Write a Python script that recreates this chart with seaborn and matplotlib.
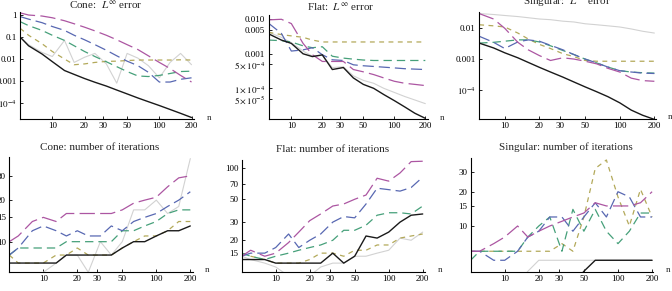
import matplotlib
matplotlib.use("Agg")
import matplotlib.pyplot as plt
import seaborn as sns
import pandas as pd
from matplotlib.ticker import NullLocator

# problem sizes n (shared x values)
n = [5, 6, 8, 10, 13, 16, 20, 25, 32, 40, 50, 63, 79, 100, 126, 158, 200]
n_err = n[1:]  # flat / singular error curves start at n = 6

series = ["gray", "olive", "green", "blue", "purple", "black"]

# Cone: L-infinity error
cone_err_gray = [0.1, 0.045, 0.02, 0.013, 0.07, 0.007, 0.012, 0.018, 0.006, 0.0008,
                 0.018, 0.011, 0.005, 0.0014, 0.007, 0.018, 0.0055]
cone_err_olive = [0.25, 0.12, 0.05, 0.022, 0.01, 0.0055, 0.006, 0.007, 0.0078, 0.008,
                  0.0085, 0.009, 0.009, 0.009, 0.009, 0.0092, 0.009]
cone_err_green = [0.5, 0.33, 0.2, 0.12, 0.07, 0.04, 0.022, 0.013, 0.0075, 0.0045,
                  0.0027, 0.0017, 0.0016, 0.0018, 0.0022, 0.0027, 0.0028]
cone_err_blue = [0.85, 0.65, 0.45, 0.3, 0.2, 0.12, 0.075, 0.045, 0.025, 0.014,
                 0.008, 0.005, 0.0025, 0.0009, 0.0009, 0.0012, 0.0014]
cone_err_purple = [1.25, 1.0, 0.9, 0.75, 0.55, 0.4, 0.28, 0.19, 0.12, 0.075,
                   0.045, 0.027, 0.014, 0.007, 0.0037, 0.0018, 0.0009]
cone_err_black = [0.1, 0.04, 0.017, 0.0076, 0.003, 0.002, 0.0013, 0.00088, 0.00059, 0.00039,
                  0.00026, 0.00017, 0.000115, 7.7e-5, 5.1e-5, 3.4e-5, 2.2e-5]

# Flat: L-infinity error (n >= 6)
flat_err_gray = [0.0042, 0.003, 0.0021, 0.0012, 0.00085, 0.0009, 0.0004, 0.00042,
                 0.00023, 0.00017, 0.00014, 0.0001, 7.6e-5, 5.8e-5, 4.6e-5, 3.6e-5]
flat_err_olive = [0.0042, 0.0036, 0.0033, 0.003, 0.0025, 0.0022, 0.0022, 0.0022,
                  0.0022, 0.0022, 0.0022, 0.0022, 0.0022, 0.0022, 0.0022, 0.0022]
flat_err_green = [0.0025, 0.0024, 0.0022, 0.0017, 0.0015, 0.0016, 0.00085, 0.00075,
                  0.0007, 0.00066, 0.00064, 0.00064, 0.00064, 0.00064, 0.00064, 0.00064]
flat_err_blue = [0.0077, 0.0039, 0.0012, 0.0013, 0.0015, 0.00094, 0.00067, 0.00064,
                 0.00048, 0.00045, 0.00043, 0.00041, 0.00039, 0.00037, 0.00036, 0.00035]
flat_err_purple = [0.0096, 0.01, 0.0075, 0.002, 0.00094, 0.0006, 0.0006, 0.0006,
                   0.00035, 0.0003, 0.00025, 0.0002, 0.00016, 0.00014, 0.00013, 0.00012]
flat_err_black = [0.0038, 0.0025, 0.002, 0.001, 0.00083, 0.00093, 0.00035, 0.0004,
                  0.0002, 0.00013, 0.0001, 6.6e-5, 4.4e-5, 2.9e-5, 1.9e-5, 1.35e-5]

# Singular: L-infinity error (n >= 6)
sing_err_gray = [0.03, 0.028, 0.026, 0.024, 0.022, 0.02, 0.019, 0.017,
                 0.016, 0.014, 0.013, 0.012, 0.011, 0.0095, 0.008, 0.007]
sing_err_olive = [0.013, 0.012, 0.011, 0.007, 0.0045, 0.003, 0.0022, 0.0015,
                  0.0012, 0.0009, 0.00085, 0.00085, 0.00085, 0.00085, 0.00085, 0.00085]
sing_err_green = [0.0033, 0.0035, 0.0038, 0.0042, 0.0042, 0.0036, 0.0027, 0.0019,
                  0.0014, 0.001, 0.00075, 0.00055, 0.00042, 0.00038, 0.00036, 0.00035]
sing_err_blue = [0.0055, 0.0035, 0.0022, 0.0036, 0.0042, 0.0038, 0.0028, 0.002,
                 0.0014, 0.001, 0.00075, 0.00055, 0.00042, 0.00038, 0.00035, 0.00034]
sing_err_purple = [0.03, 0.02, 0.01, 0.0035, 0.002, 0.0013, 0.0009, 0.0011,
                   0.001, 0.00085, 0.0007, 0.0005, 0.00038, 0.00024, 0.0002, 0.00019]
sing_err_black = [0.0033, 0.0023, 0.0016, 0.0011, 0.00078, 0.00054, 0.00038, 0.00026,
                  0.00018, 0.000125, 8.7e-5, 6e-5, 3.8e-5, 2.2e-5, 1.5e-5, 1.1e-5]

# Cone: number of iterations
cone_it_gray = [5, 5, 5, 6, 7, 8, 8, 6, 10, 8, 10, 17, 17, 20, 16, 18, 40]
cone_it_olive = [8, 7, 7, 7, 8, 8, 9, 8, 8, 8, 9, 10, 11, 11, 12, 14, 14]
cone_it_green = [8, 9, 9, 9, 9, 10, 10, 10, 10, 10, 12, 12, 13, 14, 16, 17, 17]
cone_it_blue = [8, 9, 12, 13, 12, 11, 12, 11, 11, 13, 12, 14, 15, 16, 18, 20, 23]
cone_it_purple = [10, 11, 14, 15, 14, 16, 16, 16, 16, 16, 17, 19, 20, 21, 25, 29, 30]
cone_it_black = [7, 7, 7, 7, 7, 8, 8, 8, 8, 8, 9, 10, 10, 11, 12, 12, 13]

# Flat: number of iterations
flat_it_gray = [14, 13, 12, 11, 9, 9, 9, 11, 12, 12, 14, 14, 15, 16, 21, 20, 24]
flat_it_olive = [15, 14, 13, 12, 12, 12, 13, 15, 15, 14, 16, 16, 18, 18, 21, 22, 23]
flat_it_green = [15, 14, 13, 14, 15, 16, 17, 18, 20, 25, 25, 28, 35, 37, 37, 36, 43]
flat_it_blue = [14, 15, 15, 17, 23, 17, 20, 23, 30, 34, 33, 45, 64, 62, 60, 65, 82]
flat_it_purple = [14, 16, 14, 15, 19, 24, 31, 36, 43, 45, 50, 55, 80, 75, 90, 116, 117]
flat_it_black = [13, 13, 13, 12, 12, 12, 12, 12, 15, 12, 14, 22, 21, 24, 30, 35, 36]

# Singular: number of iterations
sing_it_gray = [3, 3, 3, 3, 3, 4, 5, 5, 5, 5, 5, 5, 5, 5, 5, 5, 5]
sing_it_olive = [6, 6, 6, 6, 6, 6, 6, 6, 7, 6, 12, 32, 38, 18, 10, 21, 12]
sing_it_green = [5, 6, 6, 6, 6, 8, 10, 12, 6, 14, 9, 14, 9, 7, 9, 13, 13]
sing_it_blue = [6, 6, 5, 5, 6, 8, 9, 12, 12, 9, 12, 16, 12, 20, 18, 12, 12]
sing_it_purple = [6, 6, 7, 8, 10, 8, 9, 10, 11, 12, 13, 16, 15, 15, 15, 16, 20]
sing_it_black = [3, 3, 3, 3, 3, 3, 3, 3, 3, 3, 4, 5, 5, 5, 5, 5, 5]

# styling
colors = {"gray": "#d2d2d2", "olive": "#b3a95a", "green": "#46a07a",
          "blue": "#5868b2", "purple": "#ac56a2", "black": "#1a1a1a"}
dashes = {"gray": "", "olive": (3.5, 3.2), "green": (6, 3.6), "blue": (8, 3.6),
          "purple": (11, 3.8), "black": ""}
widths = {"gray": 0.8, "olive": 0.9, "green": 0.9, "blue": 0.9, "purple": 0.9, "black": 1.0}

sns.set_theme(style="white")
plt.rcParams["font.family"] = ["Liberation Serif", "DejaVu Serif"]
plt.rcParams["mathtext.fontset"] = "stix"
plt.rcParams["lines.scale_dashes"] = False

W, H = 672, 291
fig = plt.figure(figsize=(W / 100, H / 100), dpi=100)


def frame(x, cols):
    rows = []
    for name, vals in zip(series, cols):
        for xv, yv in zip(x, vals):
            rows.append({"n": xv, "value": yv, "series": name})
    return pd.DataFrame(rows)


xticks = [10, 20, 30, 50, 100, 200]

panels = [
    # box in px (left, top, right, bottom), xlim, ylim, x, data, yticks, ylabels, title, title pos
    ((20.1, 11.8, 193.8, 118.9), (5, 210), (1.9e-5, 1.4), n,
     [cone_err_gray, cone_err_olive, cone_err_green, cone_err_blue, cone_err_purple, cone_err_black],
     [1, 0.1, 0.01, 0.001, 1e-4], ["1", "0.1", "0.01", "0.001", "$10^{-4}$"],
     "Cone:  $L^{\\infty}$ error", (106, 5)),
    ((268.5, 15, 427.5, 118.9), (6, 210), (1.3e-5, 0.0133), n_err,
     [flat_err_gray, flat_err_olive, flat_err_green, flat_err_blue, flat_err_purple, flat_err_black],
     [0.01, 0.005, 0.001, 5e-4, 1e-4, 5e-5],
     ["0.010", "0.005", "0.001", "$5\\times10^{-4}$", "$1\\times10^{-4}$", "$5\\times10^{-5}$"],
     "Flat:  $L^{\\infty}$ error", (341, 7)),
    ((479.2, 11.9, 655.6, 118.8), (6, 205), (1.15e-5, 0.034), n_err,
     [sing_err_gray, sing_err_olive, sing_err_green, sing_err_blue, sing_err_purple, sing_err_black],
     [0.01, 0.001, 1e-4], ["0.01", "0.001", "$10^{-4}$"],
     "Singular:  $L^{\\infty}$ error", (567, 2)),
    ((9.3, 157.1, 192.7, 271.8), (5, 210), (6.05, 41), n,
     [cone_it_gray, cone_it_olive, cone_it_green, cone_it_blue, cone_it_purple, cone_it_black],
     [10, 15, 20, 30], ["10", "15", "20", "30"],
     "Cone: number of iterations", (100, 147)),
    ((241.7, 160.1, 425.1, 271.5), (5, 210), (9.95, 120), n,
     [flat_it_gray, flat_it_olive, flat_it_green, flat_it_blue, flat_it_purple, flat_it_black],
     [15, 20, 30, 50, 70, 100], ["15", "20", "30", "50", "70", "100"],
     "Flat: number of iterations", (333, 150)),
    ((470.6, 157.7, 653.3, 271.8), (5, 205), (3.96, 39.8), n,
     [sing_it_gray, sing_it_olive, sing_it_green, sing_it_blue, sing_it_purple, sing_it_black],
     [10, 15, 20, 30], ["10", "15", "20", "30"],
     "Singular: number of iterations", (566, 147)),
]

for box, xlim, ylim, x, cols, yt, ylab, title, tpos in panels:
    l, t, r, b = box
    ax = fig.add_axes([l / W, 1 - b / H, (r - l) / W, (b - t) / H])
    df = frame(x, cols)
    sns.lineplot(data=df, x="n", y="value", hue="series", style="series", size="series",
                 hue_order=series, style_order=series, size_order=series,
                 palette=colors, dashes=dashes, sizes=widths,
                 estimator=None, sort=False, legend=False, ax=ax)
    ax.set_xscale("log")
    ax.set_yscale("log")
    ax.set_xlim(*xlim)
    ax.set_ylim(*ylim)
    ax.set_xticks(xticks)
    ax.set_xticklabels([str(v) for v in xticks])
    ax.set_yticks(yt)
    ax.set_yticklabels(ylab)
    ax.xaxis.set_minor_locator(NullLocator())
    ax.yaxis.set_minor_locator(NullLocator())
    ax.set_xlabel("")
    ax.set_ylabel("")
    ax.patch.set_alpha(0)
    for s in ["top", "right"]:
        ax.spines[s].set_visible(False)
    for s in ["left", "bottom"]:
        ax.spines[s].set_color("black")
        ax.spines[s].set_linewidth(0.8)
    ax.tick_params(direction="in", length=2.5, width=0.6, labelsize=6.5, pad=2.5,
                   colors="black", bottom=True, left=True)
    ax.annotate("n", xy=(1, 0), xycoords="axes fraction", xytext=(9, 1),
                textcoords="offset points", fontsize=6.5, ha="left", va="center")
    fig.text(tpos[0] / W, 1 - tpos[1] / H, title, ha="center", va="center", fontsize=8)

fig.savefig("out.png", dpi=100, facecolor="white")
